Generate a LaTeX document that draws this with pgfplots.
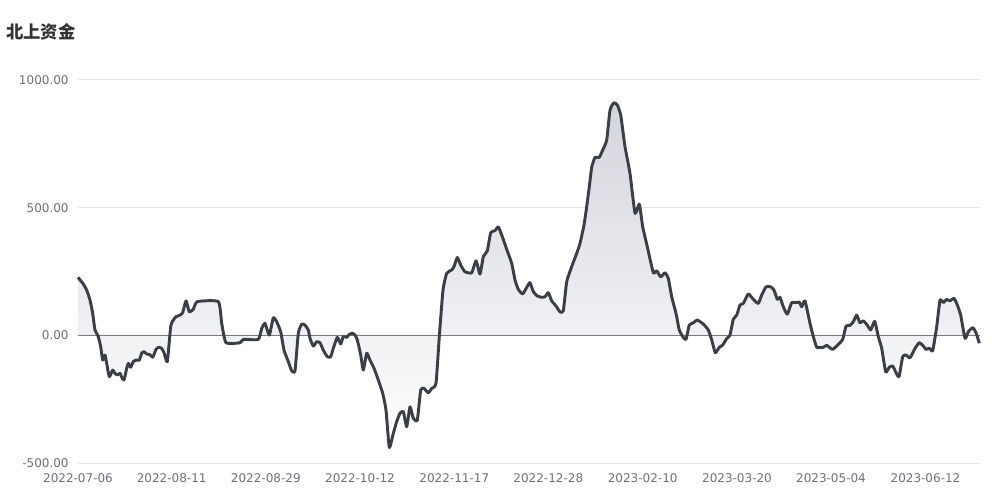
\documentclass[border=0pt]{standalone}
\usepackage{pgfplots}
\usepackage{pgfplotstable}
\pgfplotsset{compat=1.18}
\usepackage{fontspec}
\setmainfont{DejaVu Sans}
\newfontfamily\cjk{Noto Sans CJK SC}
\definecolor{linec}{RGB}{58,62,70}
\definecolor{gridc}{RGB}{224,228,236}
\definecolor{labc}{RGB}{110,112,121}
\definecolor{zeroc}{RGB}{120,122,128}
\definecolor{fillc}{RGB}{210,213,219}
\pgfplotstableread{
x v
78 227
83.3 201
86.7 177
90 138
92.7 86
95 21
98.3 -5
100.7 -45
102.7 -97
105 -77
106.7 -110
109.3 -162
112.7 -136
115 -149
117.3 -155
120 -149
121.7 -164
124 -175
126.7 -129
128.3 -110
130.7 -125
133.3 -103
136 -97
139.3 -97
141.7 -70
144 -64
146.7 -73
150 -76
152.7 -86
156 -55
158.7 -47
161.7 -51
164 -68
167.3 -103
170.7 34
173.3 60
176 73
180 79
182.7 89
186 135
189.3 92
193.3 102
197.3 132
218.3 132
221.7 47
226 -29
240 -29
243.3 -16
258.3 -16
261.7 27
265 47
269.3 1
273.3 69
276.7 53
280.7 14
284 -58
288.3 -103
291.7 -139
295 -139
298.3 8
301.7 44
305 40
308.3 21
310 -12
313.3 -42
316.7 -25
320 -29
323.3 -58
327.3 -84
330.7 -84
333.3 -51
337.3 -8
340.7 -34
343.3 -5
346.7 -8
349.3 4
352.7 8
355 1
357.3 -18
360.7 -77
363.3 -136
366.7 -70
370 -97
374 -129
378.3 -175
382.7 -227
386 -293
389.3 -439
393.3 -384
396.7 -338
400 -305
403.3 -299
406.7 -358
410 -280
413.3 -325
417.3 -332
420.7 -214
424 -208
428.3 -225
431.7 -208
436 -188
439.3 -5
443 177
446.7 243
451.7 256
454 269
457.3 305
460.7 275
465 249
471.7 245
476 292
480 240
483.3 308
487.3 331
490.7 402
495 410
498.3 425
501.7 393
506.7 337
511.7 282
515 217
518.3 180
522.7 162
526.7 188
530 206
533.3 171
537.3 154
541.7 149
545 151
548.3 167
551.7 135
556 115
560 92
563.3 96
566.7 210
571.7 269
576.7 321
580 360
584 432
586.7 504
589.3 582
591.7 658
595 697
599.3 697
602.7 726
606.7 765
610 882
614 911
617.3 902
620.7 863
625 739
630 634
635 478
639.3 514
642.7 425
647.3 347
653.3 245
656.7 253
660.7 229
665 245
668.3 223
671.7 151
676 86
679.3 21
683.3 -8
686 -16
689.3 40
693.3 49
697.3 60
703.3 44
708.3 21
711.7 -18
715.3 -68
719.3 -47
722.7 -38
726.7 -13
730 1
733.3 63
736.7 79
740 119
743.3 125
748.3 162
753.3 141
758.3 125
761.7 158
766 190
770.7 190
774 177
777.3 141
780 149
783.3 112
787.3 83
791.7 128
796.7 128
799.3 130
801.7 112
805 135
810 47
813.3 -5
816.7 -47
820 -47
823.3 -47
826.7 -39
829.3 -47
832.7 -55
836.7 -42
842.7 -16
846 36
850 39
853.3 53
856.7 79
860 49
863.3 57
867.3 40
870.7 21
874.7 55
878.3 -5
881.7 -51
885.7 -143
889.3 -125
892.7 -120
896 -146
899 -162
902.7 -84
906 -77
910 -88
915 -51
919.3 -29
923.3 -42
926 -55
929.3 -51
932.7 -60
936.7 34
940 138
943.3 128
946.7 141
950 135
954 145
957.3 119
960.7 79
965 -12
968.3 14
972.7 30
976 10
979.3 -31
}\datatable
\begin{document}
\begin{tikzpicture}
\useasboundingbox (0,0) rectangle (750pt,375pt);
\node[anchor=west, inner sep=0, text=black!80] at (4.5pt,351pt) {\fontsize{13}{14}\cjk\bfseries 北上资金};
\begin{axis}[
  at={(58.5pt,27.75pt)}, anchor=south west,
  scale only axis, width=676.5pt, height=287.25pt,
  xmin=78, xmax=980, ymin=-500, ymax=1000,
  ytick={-500,0,500,1000},
  xtick={78,171.7,265.8,360,454.3,548.3,642.7,737,831,925.5},
  xticklabels={2022-07-06,2022-08-11,2022-08-29,2022-10-12,2022-11-17,2022-12-28,2023-02-10,2023-03-20,2023-05-04,2023-06-12},
  ymajorgrids, grid style={gridc, line width=0.75pt},
  axis line style={draw=none},
  major tick length=0pt,
  tick label style={font=\fontsize{9}{10}\selectfont, text=labc},
  yticklabel style={xshift=-3.5pt},
  xticklabel style={yshift=-4.5pt},
  /pgf/number format/assume math mode=true,
  y tick label style={/pgf/number format/fixed, /pgf/number format/fixed zerofill, /pgf/number format/precision=2, /pgf/number format/1000 sep={}},
  clip=false,
]
\addplot[draw=none, top color=fillc, bottom color=white, smooth, tension=0.3] table[x=x,y=v] {\datatable} \closedcycle;
\draw[zeroc, line width=0.75pt] (axis cs:78,0) -- (axis cs:980,0);
\addplot[linec, line width=2.2pt, smooth, tension=0.3, line join=round] table[x=x,y=v] {\datatable};
\end{axis}
\end{tikzpicture}
\end{document}
